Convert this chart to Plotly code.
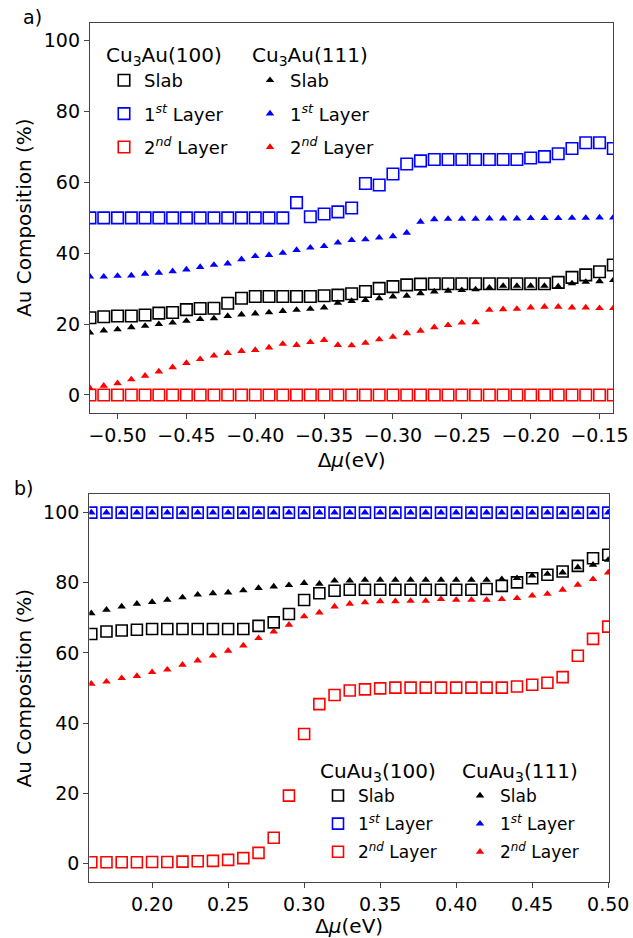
import plotly.graph_objects as go

W, H = 633, 938
FONT = "DejaVu Sans"

# ---------------- Panel a data (Cu3Au) ----------------
xa = [round(-0.52 + 0.01 * i, 2) for i in range(39)]
a100_slab = [21.8, 22.1, 22.3, 22.3, 22.6, 23.1, 23.3, 24.1, 24.4, 24.5,
             25.9, 27.3, 27.8, 27.8, 27.8, 27.8, 27.8, 28.0, 28.2, 28.6,
             29.2, 30.1, 30.6, 31.1, 31.3, 31.4, 31.4, 31.4, 31.4, 31.4,
             31.4, 31.4, 31.4, 31.4, 31.8, 33.2, 33.9, 34.8, 36.7]
a100_l1 = [50.0, 50.0, 50.0, 50.0, 50.0, 50.0, 50.0, 50.0, 50.0, 50.0,
           50.0, 50.0, 50.0, 50.0, 50.0, 54.3, 50.3, 51.1, 51.7, 52.8,
           59.7, 59.3, 62.4, 65.2, 66.1, 66.5, 66.5, 66.5, 66.5, 66.5,
           66.5, 66.5, 66.9, 67.3, 68.1, 69.6, 71.2, 71.2, 69.6]
a100_l2 = [0.0] * 39
a111_slab = [17.6, 18.2, 18.5, 19.1, 19.5, 20.0, 20.4, 20.9, 21.4, 21.6,
             22.3, 22.7, 23.0, 23.3, 23.7, 24.0, 24.3, 24.7, 26.0, 26.5,
             26.8, 27.3, 27.8, 28.0, 28.7, 29.2, 29.4, 29.6, 29.8, 30.3,
             30.8, 30.8, 30.8, 30.8, 30.6, 31.5, 31.9, 32.1, 32.4]
a111_l1 = [33.4, 33.4, 33.6, 33.7, 34.2, 34.5, 34.9, 35.4, 36.1, 36.7,
           37.1, 38.3, 39.2, 39.5, 40.1, 40.9, 41.6, 42.0, 43.0, 43.7,
           43.9, 44.4, 44.8, 45.8, 48.9, 49.6, 49.7, 49.7, 49.7, 49.8,
           49.8, 49.8, 49.9, 49.9, 49.9, 50.0, 50.0, 50.1, 50.1]
a111_l2 = [1.9, 2.6, 3.3, 4.4, 5.4, 6.6, 7.8, 9.0, 10.1, 11.1,
           11.8, 12.4, 12.7, 13.4, 14.4, 14.1, 14.9, 15.5, 14.1, 14.0,
           14.7, 15.7, 16.4, 17.4, 18.1, 19.1, 19.7, 20.4, 20.5, 24.0,
           24.2, 24.3, 24.7, 24.9, 24.9, 24.7, 24.7, 24.5, 24.5]

# ---------------- Panel b data (CuAu3) ----------------
xb = [round(0.16 + 0.01 * i, 2) for i in range(35)]
b100_slab = [65.4, 66.1, 66.4, 66.6, 66.8, 66.8, 66.8, 66.8, 66.8, 66.8,
             66.8, 67.7, 68.7, 71.1, 75.1, 77.0, 77.7, 78.0, 78.0, 78.0,
             78.0, 78.0, 78.0, 78.0, 78.0, 78.0, 78.2, 79.1, 80.1, 81.3,
             82.3, 83.2, 84.8, 87.0, 88.0]
b100_l1 = [100.0] * 35
b100_l2 = [0.3, 0.3, 0.3, 0.3, 0.4, 0.4, 0.5, 0.6, 0.7, 1.0,
           1.5, 3.0, 7.3, 19.3, 36.9, 45.4, 48.0, 49.3, 49.6, 49.9,
           50.1, 50.1, 50.1, 50.1, 50.1, 50.1, 50.1, 50.1, 50.4, 50.9,
           51.5, 53.1, 59.2, 64.0, 67.5]
b111_slab = [71.3, 72.3, 73.2, 74.0, 74.5, 75.1, 75.8, 76.6, 77.0, 77.2,
             77.8, 78.5, 78.9, 79.3, 79.9, 79.7, 80.6, 80.6, 80.8, 80.8,
             80.8, 80.8, 80.8, 80.8, 80.8, 80.8, 80.8, 81.0, 81.3, 82.0,
             82.5, 82.9, 84.4, 85.1, 86.5]
b111_l1 = [100.0] * 35
b111_l2 = [51.2, 51.8, 52.8, 53.4, 54.5, 55.2, 56.6, 57.8, 59.2, 60.6,
           62.1, 64.2, 66.1, 68.0, 70.4, 71.5, 73.2, 74.0, 74.4, 74.7,
           74.7, 74.8, 74.8, 75.3, 75.1, 75.1, 75.1, 75.3, 75.6, 76.3,
           76.8, 78.0, 79.4, 81.0, 82.9]

layer_names = ["Slab", "1<sup><i>st</i></sup> Layer", "2<sup><i>nd</i></sup> Layer"]
colors = ["black", "blue", "red"]

fig = go.Figure()

def add_group(x, ys, sym, xaxis, yaxis, legend, group_prefix, sq_size, tri_size):
    for k, (y, name, c) in enumerate(zip(ys, layer_names, colors)):
        if sym == "square":
            marker = dict(symbol="square-open", size=sq_size, color=c,
                          line=dict(width=1.6, color=c))
        else:
            marker = dict(symbol="triangle-up", size=tri_size, color=c,
                          line=dict(width=0))
        fig.add_trace(go.Scatter(
            x=x, y=y, mode="markers", name=name, marker=marker,
            xaxis=xaxis, yaxis=yaxis, legend=legend,
            legendgroup=f"{group_prefix}{k}", cliponaxis=True))

add_group(xa, [a100_slab, a100_l1, a100_l2], "square", "x", "y", "legend", "a100", 11.5, 7.5)
add_group(xa, [a111_slab, a111_l1, a111_l2], "tri", "x", "y", "legend2", "a111", 11.5, 7.5)
add_group(xb, [b100_slab, b100_l1, b100_l2], "square", "x2", "y2", "legend3", "b100", 11.0, 7.5)
add_group(xb, [b111_slab, b111_l1, b111_l2], "tri", "x2", "y2", "legend4", "b111", 11.0, 7.5)

axis_common = dict(showline=True, mirror=True, linecolor="#444", linewidth=1.3,
                   ticks="outside", ticklen=5, tickwidth=1.2, tickcolor="#444",
                   showgrid=False, zeroline=False, automargin=False,
                   tickfont=dict(family=FONT, size=19, color="black"))

def px_x(p):
    return p / W

def px_y(p):
    return 1 - p / H

xtitle = dict(text="Δ<i>μ</i>(eV)", font=dict(family=FONT, size=20, color="black"), standoff=8)
ytitle = dict(text="Au Composition (%)", font=dict(family=FONT, size=20, color="black"), standoff=6)

fig.update_layout(
    template="none",
    width=W, height=H,
    margin=dict(l=0, r=0, t=0, b=0, autoexpand=False),
    paper_bgcolor="white", plot_bgcolor="white",
    font=dict(family=FONT, color="black"),
    xaxis=dict(domain=[px_x(90), px_x(613.3)], range=[-0.52, -0.14], anchor="y",
               tickvals=[-0.50, -0.45, -0.40, -0.35, -0.30, -0.25, -0.20, -0.15],
               ticktext=["−0.50", "−0.45", "−0.40", "−0.35", "−0.30", "−0.25", "−0.20", "−0.15"],
               title=xtitle, **axis_common),
    yaxis=dict(domain=[px_y(412.7), px_y(22.7)], range=[-5.0, 105.1], anchor="x",
               tickvals=[0, 20, 40, 60, 80, 100], title=ytitle, **axis_common),
    xaxis2=dict(domain=[px_x(89.3), px_x(609)], range=[0.1587, 0.5005], anchor="y2",
                tickvals=[0.20, 0.25, 0.30, 0.35, 0.40, 0.45, 0.50],
                ticktext=["0.20", "0.25", "0.30", "0.35", "0.40", "0.45", "0.50"],
                title=xtitle, **axis_common),
    yaxis2=dict(domain=[px_y(882.3), px_y(494)], range=[-5.4, 105.3], anchor="x2",
                tickvals=[0, 20, 40, 60, 80, 100], title=ytitle, **axis_common),
)

def legend_cfg(title, x, ytop, gap, item_size):
    return dict(
        title=dict(text=title, font=dict(family=FONT, size=20, color="black"), side="top"),
        x=px_x(x), y=px_y(ytop), xanchor="left", yanchor="top",
        xref="paper", yref="paper",
        bgcolor="rgba(0,0,0,0)", borderwidth=0,
        font=dict(family=FONT, size=item_size, color="black"),
        tracegroupgap=gap, traceorder="grouped", itemsizing="trace",
        itemclick=False, itemdoubleclick=False,
    )

fig.update_layout(
    legend=legend_cfg("Cu<sub>3</sub>Au(100)", 104, 36, 7, 18),
    legend2=legend_cfg("Cu<sub>3</sub>Au(111)", 250, 36, 7, 18),
    legend3=legend_cfg("CuAu<sub>3</sub>(100)", 318, 752, 3, 17),
    legend4=legend_cfg("CuAu<sub>3</sub>(111)", 460, 752, 3, 17),
)

fig.add_annotation(text="a)", x=px_x(32), y=px_y(17), xref="paper", yref="paper",
                   xanchor="center", yanchor="middle",
                   showarrow=False, font=dict(family=FONT, size=19, color="black"))
fig.add_annotation(text="b)", x=px_x(23.5), y=px_y(488), xref="paper", yref="paper",
                   xanchor="center", yanchor="middle",
                   showarrow=False, font=dict(family=FONT, size=19, color="black"))

fig.write_html("out.html")
